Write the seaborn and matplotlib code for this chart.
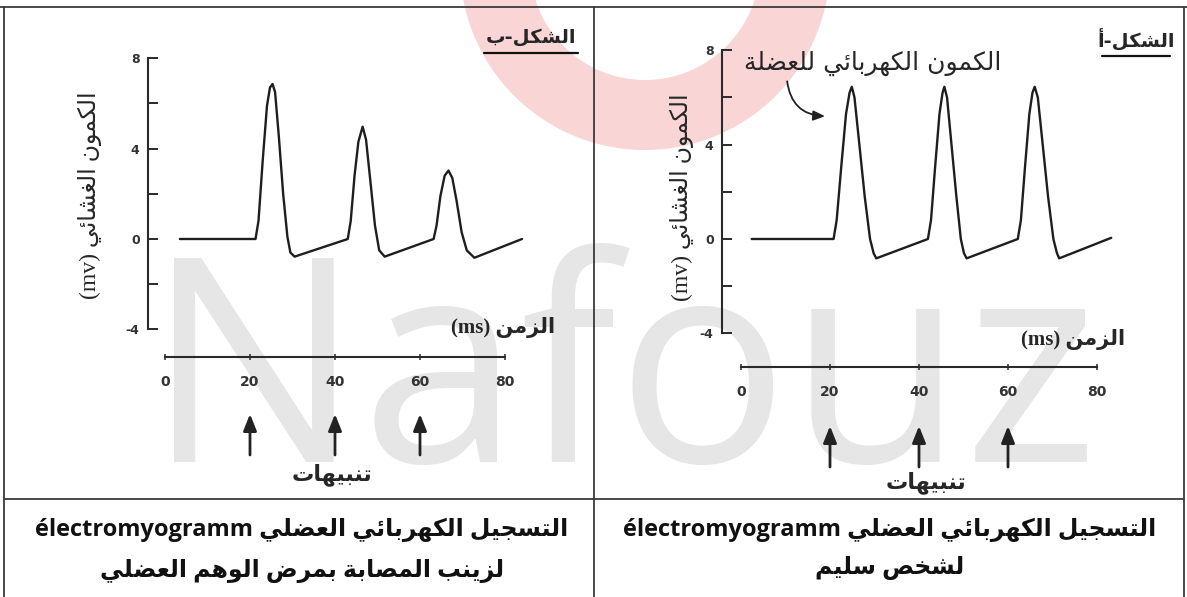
import matplotlib
matplotlib.use("Agg")
import matplotlib.pyplot as plt
import seaborn as sns
from matplotlib.patches import Wedge

# ---- values ----
stim_times = [20, 40, 60]
x_ticks = [0, 20, 40, 60, 80]
y_ticks = [-4, -2, 0, 2, 4, 6, 8]
y_tick_labels = ['-4', '', '0', '', '4', '', '8']

# figure b : muscle potential of the patient (peaks get smaller)
t_b = [3.5, 21.3, 22.0, 23.0, 24.0, 24.7, 25.3, 25.9, 26.8, 27.8, 28.8, 29.5, 30.5,
       43.0, 43.7, 44.6, 45.5, 46.5, 47.3, 48.3, 49.4, 50.4, 51.7,
       63.2, 63.9, 64.8, 65.8, 66.7, 67.6, 68.6, 69.8, 71.0, 72.8, 84.0]
v_b = [0.0, 0.0, 0.8, 3.5, 5.9, 6.7, 6.86, 6.5, 4.5, 2.0, 0.1, -0.6, -0.78,
       0.0, 0.8, 2.8, 4.3, 4.97, 4.4, 2.6, 0.6, -0.5, -0.78,
       0.0, 0.6, 1.9, 2.8, 3.03, 2.7, 1.7, 0.3, -0.5, -0.83, 0.0]

# figure a : healthy subject (equal peaks)
t_a = [2.4, 20.8, 21.5, 22.5, 23.6, 24.4, 24.9, 25.5, 26.6, 27.8, 29.0, 29.8, 30.4,
       42.0, 42.7, 43.6, 44.6, 45.3, 45.7, 46.3, 47.3, 48.4, 49.4, 50.1, 50.7,
       62.2, 62.9, 63.8, 64.8, 65.5, 66.0, 66.7, 67.8, 69.0, 70.2, 71.0, 71.5, 83.2]
v_a = [0.0, 0.0, 0.8, 3.0, 5.3, 6.2, 6.45, 6.0, 4.0, 1.8, 0.0, -0.6, -0.82,
       0.0, 0.8, 3.0, 5.3, 6.2, 6.45, 6.0, 4.0, 1.8, 0.0, -0.6, -0.82,
       0.0, 0.8, 3.0, 5.3, 6.2, 6.45, 6.0, 4.0, 1.8, 0.0, -0.6, -0.82, 0.05]

# ---- small arabic shaper (matplotlib has no text shaping) ----
FORMS = {
    'ء': (0xFE80, 1), 'آ': (0xFE81, 2), 'أ': (0xFE83, 2), 'ؤ': (0xFE85, 2), 'إ': (0xFE87, 2),
    'ئ': (0xFE89, 4), 'ا': (0xFE8D, 2), 'ب': (0xFE8F, 4), 'ة': (0xFE93, 2), 'ت': (0xFE95, 4),
    'ث': (0xFE99, 4), 'ج': (0xFE9D, 4), 'ح': (0xFEA1, 4), 'خ': (0xFEA5, 4), 'د': (0xFEA9, 2),
    'ذ': (0xFEAB, 2), 'ر': (0xFEAD, 2), 'ز': (0xFEAF, 2), 'س': (0xFEB1, 4), 'ش': (0xFEB5, 4),
    'ص': (0xFEB9, 4), 'ض': (0xFEBD, 4), 'ط': (0xFEC1, 4), 'ظ': (0xFEC5, 4), 'ع': (0xFEC9, 4),
    'غ': (0xFECD, 4), 'ف': (0xFED1, 4), 'ق': (0xFED5, 4), 'ك': (0xFED9, 4), 'ل': (0xFEDD, 4),
    'م': (0xFEE1, 4), 'ن': (0xFEE5, 4), 'ه': (0xFEE9, 4), 'و': (0xFEED, 2), 'ى': (0xFEEF, 2),
    'ي': (0xFEF1, 4),
}
LAM_ALEF = {'آ': 0xFEF5, 'أ': 0xFEF7, 'إ': 0xFEF9, 'ا': 0xFEFB}


def shape(txt):
    out = []
    i = 0
    while i < len(txt):
        c = txt[i]
        if c not in FORMS:
            out.append(c)
            i += 1
            continue
        prev = txt[i - 1] if i > 0 else ''
        jp = prev in FORMS and FORMS[prev][1] == 4
        nxt = txt[i + 1] if i + 1 < len(txt) else ''
        if c == 'ل' and nxt in LAM_ALEF:
            out.append(chr(LAM_ALEF[nxt] + (1 if jp else 0)))
            i += 2
            continue
        base, nf = FORMS[c]
        if nf == 1:
            out.append(chr(base))
            i += 1
            continue
        jn = nf == 4 and nxt in FORMS and FORMS[nxt][1] > 1
        if jp and jn:
            k = 3
        elif jp:
            k = 1
        elif jn:
            k = 2
        else:
            k = 0
        out.append(chr(base + k))
        i += 1
    return ''.join(out)


def ar(s):
    return shape(s)[::-1]


title_b = ar('الشكل-ب')
title_a = ar('الشكل-أ')
y_label = '(mv) ' + ar('الكمون الغشائي')
x_label = '(ms) ' + ar('الزمن')
stim_label = ar('تنبيهات')
annot = ar('الكمون الكهربائي للعضلة')
cap_line1 = 'électromyogramm ' + ar('التسجيل الكهربائي العضلي')
cap_b2 = ar('لزينب المصابة بمرض الوهم العضلي')
cap_a2 = ar('لشخص سليم')

sns.set_style('ticks')
plt.rcParams['font.family'] = ['DejaVu Sans']

W, H = 1187, 597
fig = plt.figure(figsize=(W / 100, H / 100), dpi=100)

# background layer in image pixels: frame, watermark, logo ring
bg = fig.add_axes([0, 0, 1, 1])
bg.set_xlim(0, W)
bg.set_ylim(H, 0)
bg.axis('off')
bg.add_patch(Wedge((645, -35), 185, 0, 360, width=70, facecolor='#fad5d5',
                   edgecolor='none', zorder=0))
bg.text(146, 462, 'Nafouz', fontsize=206, family='Open Sans', color='#e6e6e6',
        ha='left', va='baseline', zorder=1)
line_kw = dict(color='#3a3a3a', lw=1.3, zorder=2)
bg.plot([0, W], [7, 7], **line_kw)
bg.plot([4, 4], [7, H], **line_kw)
bg.plot([W - 3, W - 3], [7, H], **line_kw)
bg.plot([594, 594], [7, H], **line_kw)
bg.plot([4, W - 3], [499, 499], **line_kw)

# panel titles (underlined)
bg.text(531, 37, title_b, fontsize=14, weight='bold', ha='center', va='center', zorder=3)
bg.plot([484, 578], [53, 53], color='#111', lw=1.6, zorder=3)
bg.text(1136, 39, title_a, fontsize=14, weight='bold', ha='center', va='center', zorder=3)
bg.plot([1102, 1170], [56, 56], color='#111', lw=1.6, zorder=3)

# captions in the lower cells
cap_font = ['Open Sans', 'DejaVu Sans']
bg.text(302, 530, cap_line1, fontsize=17, weight='bold', family=cap_font,
        ha='center', va='center', color='#111', zorder=3)
bg.text(302, 571, cap_b2, fontsize=17, weight='bold', family=cap_font,
        ha='center', va='center', color='#111', zorder=3)
bg.text(890, 530, cap_line1, fontsize=17, weight='bold', family=cap_font,
        ha='center', va='center', color='#111', zorder=3)
bg.text(890, 568, cap_a2, fontsize=17, weight='bold', family=cap_font,
        ha='center', va='center', color='#111', zorder=3)


def make_axes(box, x0, sx, y0, sy):
    # box = (left, right, top, bottom) in pixels; x0/y0 pixel of t=0 / v=0
    left, right, top, bottom = box
    ax = fig.add_axes([left / W, 1 - bottom / H, (right - left) / W, (bottom - top) / H])
    ax.set_xlim((left - x0) / sx, (right - x0) / sx)
    ax.set_ylim((y0 - bottom) / sy, (y0 - top) / sy)
    ax.patch.set_alpha(0)
    return ax


def style_axes(ax, ybase):
    sns.despine(ax=ax)
    ax.spines['left'].set_bounds(-4, 8)
    ax.spines['bottom'].set_position(('data', ybase))
    ax.spines['bottom'].set_bounds(0, 80)
    for s in ('left', 'bottom'):
        ax.spines[s].set_linewidth(1.5)
        ax.spines[s].set_color('#2a2a2a')
    ax.set_yticks(y_ticks)
    ax.set_yticklabels(y_tick_labels)
    ax.set_xticks(x_ticks)
    ax.tick_params(axis='y', direction='in', length=7, width=1.4, color='#2a2a2a',
                   labelsize=9, labelcolor='#333', pad=6)
    ax.tick_params(axis='x', direction='inout', length=4, width=1.1, color='#2a2a2a',
                   labelsize=10, labelcolor='#333', pad=11)
    for lab in ax.get_xticklabels() + ax.get_yticklabels():
        lab.set_fontweight('bold')
    ax.set_xlabel('')
    ax.set_ylabel('')


serif_ar = ['Liberation Serif', 'DejaVu Sans']
arrow_kw = dict(arrowstyle='-|>,head_width=0.4,head_length=1.0', color='#222', lw=2,
                shrinkA=0, shrinkB=0)

# ---- figure b (left) ----
ax_b = make_axes((148, 530, 45, 365), 165, 4.25, 239, 22.6)
sns.lineplot(x=t_b, y=v_b, ax=ax_b, color='#1e1e1e', lw=1.7, estimator=None, sort=False)
style_axes(ax_b, (239 - 357) / 22.6)
for t in stim_times:
    ax_b.annotate('', xy=(t, H - 414), xytext=(t, H - 455),
                  xycoords=('data', 'figure pixels'), textcoords=('data', 'figure pixels'),
                  arrowprops=arrow_kw)
bg.text(90, 195, y_label, rotation=90, fontsize=17, family=serif_ar,
        ha='center', va='center', zorder=3)
bg.text(503, 328, x_label, fontsize=15, weight='bold', family=serif_ar,
        ha='center', va='center', zorder=3)
bg.text(332, 475, stim_label, fontsize=16, weight='bold', ha='center', va='center', zorder=3)

# ---- figure a (right) ----
ax_a = make_axes((722, 1125, 40, 375), 741, 4.45, 239, 23.6)
sns.lineplot(x=t_a, y=v_a, ax=ax_a, color='#1e1e1e', lw=1.7, estimator=None, sort=False)
style_axes(ax_a, (239 - 367) / 23.6)
for t in stim_times:
    ax_a.annotate('', xy=(t, H - 426), xytext=(t, H - 467),
                  xycoords=('data', 'figure pixels'), textcoords=('data', 'figure pixels'),
                  arrowprops=arrow_kw)
ax_a.annotate('', xy=(19.5, 5.2), xytext=(10.3, 6.8),
              arrowprops=dict(arrowstyle='-|>,head_width=0.3,head_length=0.7',
                              color='#222', lw=1.3, connectionstyle='arc3,rad=0.45'))
bg.text(873, 63, annot, fontsize=18, ha='center', va='center', zorder=3)
bg.text(682, 197, y_label, rotation=90, fontsize=17, family=serif_ar,
        ha='center', va='center', zorder=3)
bg.text(1073, 340, x_label, fontsize=15, weight='bold', family=serif_ar,
        ha='center', va='center', zorder=3)
bg.text(926, 483, stim_label, fontsize=16, weight='bold', ha='center', va='center', zorder=3)

fig.savefig('out.png', dpi=100)
